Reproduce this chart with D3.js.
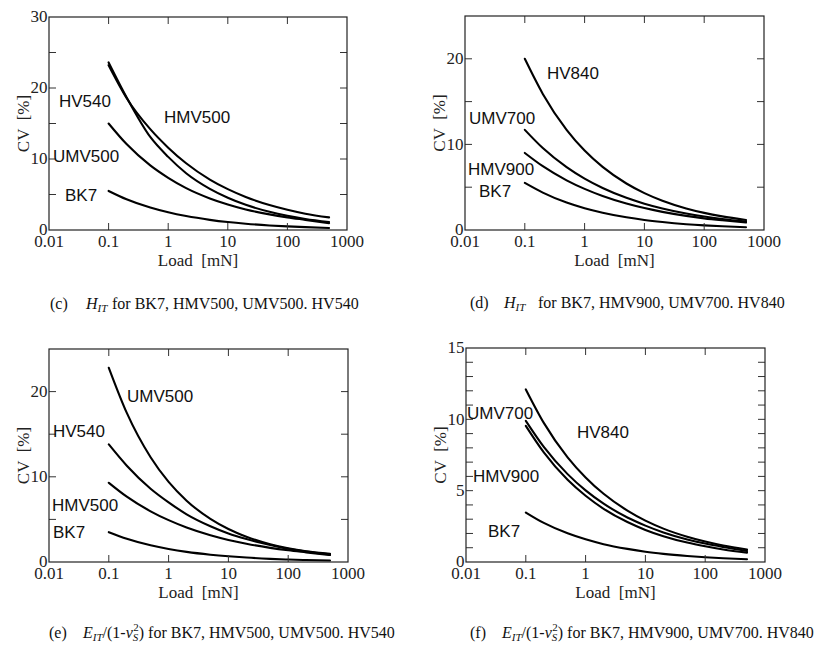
<!DOCTYPE html>
<html>
<head>
<meta charset="utf-8">
<script src="https://cdn.jsdelivr.net/npm/d3@7"></script>
<style>
  html, body { margin: 0; padding: 0; background: #fff; }
  svg { display: block; }
  text { white-space: pre; }
</style>
</head>
<body>
<svg id="chart" width="825" height="646"></svg>
<script>
// ---------------- DATA ----------------
const loads = [0.1, 0.2, 0.5, 1, 2, 5, 10, 20, 50, 100, 200, 500];

// (c) H_IT : BK7, HMV500, UMV500, HV540
const cBK7    = [5.5, 4.33, 3.16, 2.49, 1.96, 1.43, 1.12, 0.88, 0.64, 0.51, 0.40, 0.29];
const cHMV500 = [23.2, 18.6, 14.2, 11.6, 9.4, 7.1, 5.75, 4.65, 3.52, 2.85, 2.3, 1.78];
const cUMV500 = [15.0, 12.1, 9.1, 7.35, 5.9, 4.45, 3.6, 2.9, 2.2, 1.78, 1.43, 0.97];
const cHV540  = [23.6, 18.7, 13.1, 10.3, 8.0, 5.8, 4.55, 3.55, 2.56, 2.0, 1.56, 1.13];

// (d) H_IT : BK7, HMV900, UMV700, HV840
const dBK7    = [5.5, 4.37, 3.2, 2.54, 2.02, 1.48, 1.17, 0.93, 0.68, 0.54, 0.43, 0.32];
const dHMV900 = [9.0, 7.45, 5.8, 4.8, 3.97, 3.09, 2.56, 2.12, 1.65, 1.36, 1.13, 0.87];
const dUMV700 = [11.7, 9.57, 7.34, 6.0, 4.91, 3.76, 3.08, 2.52, 1.93, 1.58, 1.29, 0.98];
const dHV840  = [20.0, 15.9, 11.7, 9.28, 7.37, 5.43, 4.31, 3.42, 2.52, 2.0, 1.59, 1.17];

// (e) E_IT/(1-vs^2) : BK7, HMV500, UMV500, HV540
const eBK7    = [3.5, 2.73, 1.96, 1.53, 1.19, 0.86, 0.67, 0.52, 0.37, 0.29, 0.23, 0.18];
const eHMV500 = [9.3, 7.67, 5.95, 4.91, 4.05, 3.14, 2.59, 2.14, 1.66, 1.37, 1.13, 0.82];
const eUMV500 = [22.8, 17.5, 12.3, 9.4, 7.2, 5.06, 3.87, 2.97, 2.08, 1.6, 1.25, 0.95];
const eHV540  = [13.8, 11.3, 8.6, 7.0, 5.6, 4.2, 3.35, 2.7, 2.0, 1.55, 1.22, 0.9];

// (f) E_IT/(1-vs^2) : BK7, HMV900, UMV700, HV840
const fBK7    = [3.47, 2.74, 2.01, 1.59, 1.25, 0.92, 0.72, 0.57, 0.42, 0.33, 0.26, 0.19];
const fHMV900 = [9.54, 7.68, 5.76, 4.64, 3.73, 2.8, 2.25, 1.81, 1.36, 1.1, 0.88, 0.66];
const fUMV700 = [9.9, 8.07, 6.16, 5.02, 4.09, 3.12, 2.55, 2.07, 1.58, 1.29, 1.05, 0.77];
const fHV840  = [12.1, 9.75, 7.34, 5.93, 4.78, 3.6, 2.9, 2.34, 1.77, 1.43, 1.15, 0.87];

// axes
const xTickValues = [0.01, 0.1, 1, 10, 100, 1000];
const xTickLabels = ["0.01", "0.1", "1", "10", "100", "1000"];
const yLabelsC = [0, 10, 20, 30];
const yLabelsD = [0, 10, 20];
const yLabelsE = [0, 10, 20];
const yLabelsF = [0, 5, 10, 15];
const xTitle = "Load  [mN]";
const yTitle = "CV  [%]";

// ---------------- DRAW ----------------
const svg = d3.select("#chart");
const serif = "'Liberation Serif', 'Times New Roman', serif";
const sans = "'Liberation Sans', Arial, sans-serif";

const panels = [
  { box: [49, 347, 17, 230], ymax: 30, ystep: 5, ylabels: yLabelsC,
    series: [cBK7, cHMV500, cUMV500, cHV540],
    labels: [["HV540", 59, 107], ["HMV500", 164, 123], ["UMV500", 53, 162], ["BK7", 65, 201]] },
  { box: [465, 764, 16, 230], ymax: 25, ystep: 5, ylabels: yLabelsD,
    series: [dBK7, dHMV900, dUMV700, dHV840],
    labels: [["HV840", 547, 79], ["UMV700", 469, 124], ["HMV900", 468, 175], ["BK7", 479, 197]] },
  { box: [49, 348, 349, 562], ymax: 25, ystep: 5, ylabels: yLabelsE,
    series: [eBK7, eHMV500, eUMV500, eHV540],
    labels: [["UMV500", 127, 402], ["HV540", 53, 437], ["HMV500", 52, 511], ["BK7", 53, 538]] },
  { box: [466, 765, 348, 562], ymax: 15, ystep: 1, ylabels: yLabelsF,
    series: [fBK7, fHMV900, fUMV700, fHV840],
    labels: [["UMV700", 467, 419], ["HV840", 577, 438], ["HMV900", 473, 482], ["BK7", 488, 537]] }
];

panels.forEach(p => {
  const [L, R, T, B] = p.box;
  const x = d3.scaleLog().domain([0.01, 1000]).range([L, R]);
  const y = d3.scaleLinear().domain([0, p.ymax]).range([B, T]);
  const g = svg.append("g");

  // curves
  const line = d3.line().x(d => x(d[0])).y(d => y(d[1])).curve(d3.curveMonotoneX);
  p.series.forEach(s => {
    g.append("path")
      .datum(loads.map((l, i) => [l, s[i]]))
      .attr("d", line)
      .attr("fill", "none")
      .attr("stroke", "#000")
      .attr("stroke-width", 2.1)
      .attr("stroke-linecap", "round");
  });

  // ticks (inward) on all four sides
  const tl = 7;
  const yTicks = d3.range(0, p.ymax + 0.001, p.ystep);
  const innerX = xTickValues.slice(1, -1);
  const tg = g.append("g").attr("stroke", "#333").attr("stroke-width", 1);
  innerX.forEach(v => {
    tg.append("line").attr("x1", x(v)).attr("x2", x(v)).attr("y1", B).attr("y2", B - tl);
    tg.append("line").attr("x1", x(v)).attr("x2", x(v)).attr("y1", T).attr("y2", T + tl);
  });
  yTicks.slice(1, -1).forEach(v => {
    tg.append("line").attr("x1", L).attr("x2", L + tl).attr("y1", y(v)).attr("y2", y(v));
    tg.append("line").attr("x1", R).attr("x2", R - tl).attr("y1", y(v)).attr("y2", y(v));
  });

  // frame
  g.append("rect").attr("x", L).attr("y", T).attr("width", R - L).attr("height", B - T)
    .attr("fill", "none").attr("stroke", "#222").attr("stroke-width", 1.2);

  // x tick labels
  xTickValues.forEach((v, i) => {
    g.append("text").attr("x", x(v)).attr("y", B + 16.5)
      .attr("text-anchor", "middle").attr("font-family", serif).attr("font-size", 17)
      .attr("fill", "#222").text(xTickLabels[i]);
  });
  // y tick labels
  p.ylabels.forEach(v => {
    g.append("text").attr("x", L - 1.5).attr("y", y(v) + 5.3)
      .attr("text-anchor", "end").attr("font-family", serif).attr("font-size", 17)
      .attr("fill", "#222").text(v);
  });

  // axis titles
  g.append("text").attr("x", (L + R) / 2).attr("y", B + 35.5)
    .attr("text-anchor", "middle").attr("font-family", serif).attr("font-size", 17)
    .attr("fill", "#222").text(xTitle);
  g.append("text")
    .attr("transform", `translate(${L - 20},${(T + B) / 2}) rotate(-90)`)
    .attr("text-anchor", "middle").attr("font-family", serif).attr("font-size", 17)
    .attr("fill", "#222").text(yTitle);

  // curve labels
  p.labels.forEach(([t, lx, ly]) => {
    g.append("text").attr("x", lx).attr("y", ly)
      .attr("font-family", sans).attr("font-size", 17).attr("fill", "#111").text(t);
  });
});

// ---------------- CAPTIONS ----------------
function captionH(x0, xH, xFor, yb, tag, rest) {
  const t = svg.append("text").attr("x", x0).attr("y", yb)
    .attr("font-family", serif).attr("font-size", 16).attr("fill", "#111");
  t.append("tspan").text(tag);
  t.append("tspan").attr("x", xH).attr("font-style", "italic").text("H");
  t.append("tspan").attr("font-style", "italic").attr("font-size", 11).attr("dy", 3).text("IT");
  t.append("tspan").attr("x", xFor).attr("dy", -3).text(rest);
}
function captionE(x0, xE, yb, tag, rest) {
  const t = svg.append("text").attr("x", x0).attr("y", yb)
    .attr("font-family", serif).attr("font-size", 16).attr("fill", "#111");
  t.append("tspan").text(tag);
  t.append("tspan").attr("x", xE).attr("font-style", "italic").text("E");
  t.append("tspan").attr("font-style", "italic").attr("font-size", 11).attr("dy", 3).text("IT");
  t.append("tspan").attr("dy", -3).text("/(1-");
  t.append("tspan").attr("font-style", "italic").text("\u03BD");
  t.append("tspan").attr("font-style", "italic").attr("font-size", 11).attr("dy", 3).text("S");
  t.append("tspan").attr("font-size", 11).attr("dx", -5).attr("dy", -10).text("2");
  t.append("tspan").attr("dy", 7).text(rest);
}
captionH(50, 86, 112, 309, "(c)", "for BK7, HMV500, UMV500. HV540");
captionH(470, 504, 538, 308, "(d)", "for BK7, HMV900, UMV700. HV840");
captionE(49, 83, 638, "(e)", ") for BK7, HMV500, UMV500. HV540");
captionE(470, 502, 638, "(f)", ") for BK7, HMV900, UMV700. HV840");
</script>
</body>
</html>
